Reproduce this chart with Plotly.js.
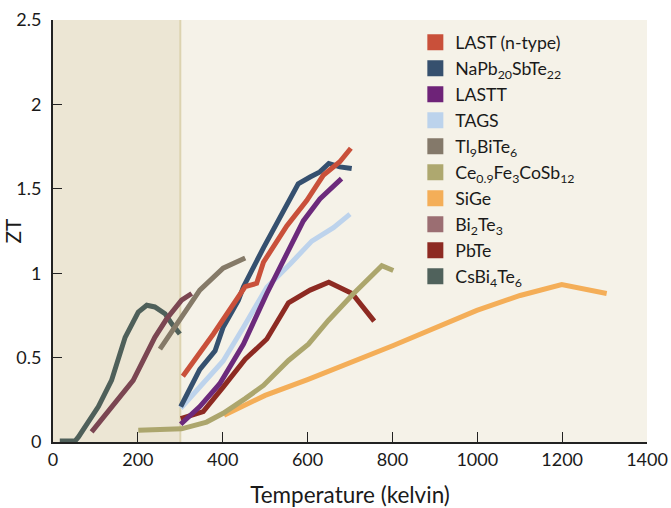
<!DOCTYPE html>
<html>
<head>
<meta charset="utf-8">
<script src="https://cdn.plot.ly/plotly-3.0.1.min.js"></script>
<style>html,body{margin:0;padding:0;background:#fff;}#chart{width:671px;height:508px;}</style>
</head>
<body>
<div id="chart"></div>
<script>
// Series names (legend order)
const names = ["LAST (n-type)", "NaPb<sub>20</sub>SbTe<sub>22</sub>", "LASTT", "TAGS", "Tl<sub>9</sub>BiTe<sub>6</sub>",
  "Ce<sub>0.9</sub>Fe<sub>3</sub>CoSb<sub>12</sub>", "SiGe", "Bi<sub>2</sub>Te<sub>3</sub>", "PbTe", "CsBi<sub>4</sub>Te<sub>6</sub>"];

// Temperatures (K) and ZT values per material
const tempLAST = [306, 378, 453, 464, 480, 496, 551, 598, 637, 676, 702];
const ztLAST   = [0.39, 0.64, 0.92, 0.93, 0.94, 1.065, 1.28, 1.43, 1.58, 1.66, 1.74];

const tempNaPb = [301, 346, 382, 401, 437, 449, 496, 535, 578, 606, 629, 650, 676, 704];
const ztNaPb   = [0.21, 0.43, 0.54, 0.68, 0.84, 0.92, 1.15, 1.33, 1.53, 1.57, 1.60, 1.65, 1.63, 1.62];

const tempLASTT = [301, 346, 393, 449, 504, 551, 590, 629, 680];
const ztLASTT   = [0.105, 0.21, 0.345, 0.58, 0.88, 1.115, 1.31, 1.44, 1.56];

const tempTAGS = [301, 401, 449, 504, 559, 610, 661, 700];
const ztTAGS   = [0.20, 0.48, 0.68, 0.917, 1.055, 1.19, 1.27, 1.35];

const tempTl = [252, 299, 346, 401, 453];
const ztTl   = [0.55, 0.72, 0.90, 1.03, 1.09];

const tempCe = [201, 303, 362, 401, 453, 496, 555, 602, 649, 708, 775, 802];
const ztCe   = [0.07, 0.078, 0.118, 0.17, 0.257, 0.335, 0.483, 0.58, 0.72, 0.878, 1.045, 1.016];

const tempSiGe = [403, 500, 600, 802, 999, 1101, 1199, 1305];
const ztSiGe   = [0.158, 0.276, 0.37, 0.572, 0.78, 0.868, 0.933, 0.88];

const tempBi = [91, 189, 240, 268, 303, 327];
const ztBi   = [0.06, 0.365, 0.62, 0.73, 0.84, 0.88];

const tempPbTe = [301, 354, 401, 453, 504, 555, 606, 650, 705, 757];
const ztPbTe   = [0.138, 0.18, 0.325, 0.49, 0.61, 0.825, 0.90, 0.947, 0.88, 0.716];

const tempCs = [16, 52, 60, 107, 138, 170, 201, 221, 240, 264, 280, 299];
const ztCs   = [0.006, 0.006, 0.03, 0.21, 0.365, 0.62, 0.77, 0.81, 0.80, 0.76, 0.70, 0.64];

const xTicks = [0, 200, 400, 600, 800, 1000, 1200, 1400];
const yTicks = [0, 0.5, 1, 1.5, 2, 2.5];
const roomTemp = 300;

const seriesX = [tempLAST, tempNaPb, tempLASTT, tempTAGS, tempTl, tempCe, tempSiGe, tempBi, tempPbTe, tempCs];
const seriesY = [ztLAST, ztNaPb, ztLASTT, ztTAGS, ztTl, ztCe, ztSiGe, ztBi, ztPbTe, ztCs];
const lineColors = ["#c9503a", "#35506f", "#6c2a7c", "#bdd3ec", "#857a68", "#aca66d", "#f4ae58", "#7b4652", "#8d2a22", "#4f605a"];
const legendColors = ["#c9503a", "#36506e", "#6e2378", "#bcd3ec", "#84796a", "#aea86f", "#f4ae58", "#9b6e72", "#8d2a22", "#50625c"];

const FONT = "Lato, 'Open Sans', sans-serif";
const traces = [];
// draw lines (reverse order so earlier legend entries sit on top)
for (let i = names.length - 1; i >= 0; i--) {
  traces.push({
    x: seriesX[i], y: seriesY[i], type: "scatter", mode: "lines",
    line: {color: lineColors[i], width: 5},
    legendgroup: "g" + i, showlegend: false, hoverinfo: "skip"
  });
}
// legend swatches
for (let i = 0; i < names.length; i++) {
  traces.push({
    x: [null], y: [null], type: "scatter", mode: "markers", name: names[i],
    marker: {symbol: "square", size: 16, color: legendColors[i]},
    legendgroup: "g" + i, showlegend: true
  });
}

const layout = {
  width: 671, height: 508,
  margin: {l: 53, r: 24, t: 20, b: 66},
  paper_bgcolor: "#ffffff",
  plot_bgcolor: "#f5f2e8",
  font: {family: FONT, color: "#1a1a1a", size: 18},
  showlegend: true,
  legend: {
    x: 0.61, y: 0.99, xanchor: "left", yanchor: "top",
    bgcolor: "rgba(0,0,0,0)", tracegroupgap: 0,
    font: {family: FONT, size: 17.7, color: "#1a1a1a"}
  },
  xaxis: {
    range: [0, 1400], tickvals: xTicks, ticks: "inside", ticklen: 10, tickcolor: "#222",
    showline: true, linecolor: "#222", linewidth: 2, showgrid: false, zeroline: false,
    tickfont: {family: FONT, size: 18, color: "#1a1a1a"},
    title: {text: "Temperature (kelvin)", font: {family: FONT, size: 22.5, color: "#1a1a1a"}, standoff: 19}
  },
  yaxis: {
    range: [0, 2.5], tickvals: yTicks, ticks: "inside", ticklen: 9, tickcolor: "#222",
    showline: true, linecolor: "#222", linewidth: 2, showgrid: false, zeroline: false,
    ticklabelstandoff: 6,
    tickfont: {family: FONT, size: 18, color: "#1a1a1a"},
    title: {text: "ZT", font: {family: FONT, size: 21, color: "#1a1a1a"}, standoff: 45}
  },
  shapes: [
    {type: "rect", xref: "x", yref: "paper", x0: 0, x1: roomTemp, y0: 0, y1: 1,
     fillcolor: "#ece6d4", line: {width: 0}, layer: "below"},
    {type: "line", xref: "x", yref: "paper", x0: roomTemp, x1: roomTemp, y0: 0, y1: 1,
     line: {color: "#dcd3b0", width: 2}, layer: "below"}
  ]
};

Plotly.newPlot("chart", traces, layout, {displayModeBar: false, staticPlot: true});
</script>
</body>
</html>
